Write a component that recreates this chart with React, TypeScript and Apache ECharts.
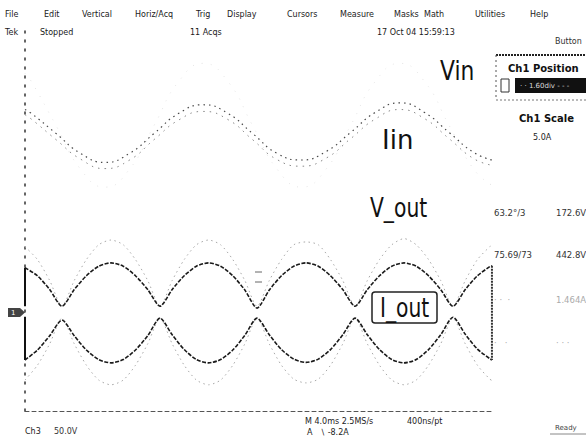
import React, { useEffect, useRef } from "react";
import * as echarts from "echarts";

// ---- data (time in ms, amplitude in screen divisions) ----
const T_GRID = [0, 1.06, 2.11, 3.16, 4.21, 5.25, 6.3, 7.35, 8.4, 9.44, 10.49, 11.54, 12.58, 13.61, 14.65, 15.69, 16.72, 17.76, 18.79, 19.83, 20.88, 21.92, 22.97, 24.02, 25.07, 26.11, 27.16, 28.21, 29.26, 30.3, 31.35, 32.4, 33.44, 34.49, 35.53, 36.58, 37.63, 38.67, 39.72, 39.91];

const IOUT_UPPER = [-0.99, -1.16, -1.45, -1.8, -1.45, -1.16, -0.96, -0.89, -0.96, -1.16, -1.45, -1.8, -1.45, -1.16, -0.96, -0.89, -0.96, -1.16, -1.46, -1.84, -1.46, -1.16, -0.96, -0.89, -0.96, -1.16, -1.45, -1.8, -1.45, -1.16, -0.96, -0.89, -0.96, -1.16, -1.45, -1.8, -1.45, -1.16, -0.97, -0.95];
const IOUT_LOWER = [-2.93, -2.72, -2.42, -2.09, -2.42, -2.72, -2.92, -2.99, -2.92, -2.72, -2.42, -2.05, -2.4, -2.71, -2.92, -2.99, -2.92, -2.72, -2.41, -2.05, -2.4, -2.71, -2.91, -2.98, -2.91, -2.71, -2.4, -2.05, -2.4, -2.71, -2.92, -2.99, -2.92, -2.71, -2.4, -2.03, -2.39, -2.7, -2.9, -2.93];
const VOUT_UPPER = [-0.55, -0.82, -1.26, -1.8, -1.26, -0.82, -0.51, -0.41, -0.51, -0.82, -1.26, -1.8, -1.26, -0.82, -0.51, -0.41, -0.51, -0.82, -1.26, -1.8, -1.26, -0.82, -0.51, -0.45, -0.51, -0.82, -1.26, -1.8, -1.26, -0.82, -0.51, -0.38, -0.51, -0.82, -1.26, -1.8, -1.26, -0.82, -0.55, -0.52];
const VOUT_LOWER = [-3.35, -3.04, -2.59, -2.05, -2.59, -3.04, -3.35, -3.45, -3.35, -3.04, -2.59, -2.05, -2.59, -3.04, -3.35, -3.45, -3.35, -3.04, -2.59, -2.05, -2.59, -3.04, -3.33, -3.41, -3.33, -3.04, -2.59, -2.05, -2.59, -3.04, -3.35, -3.45, -3.35, -3.04, -2.59, -2.05, -2.59, -3.04, -3.33, -3.36];

const IIN_T = [0, 0.54, 2.64, 4.74, 6.84, 8.94, 11.04, 13.14, 15.24, 17.34, 19.44, 21.54, 23.64, 25.74, 27.84, 29.94, 32.04, 34.14, 36.24, 38.34, 39.91];
const IIN_A = [2.33, 2.25, 1.83, 1.41, 1.22, 1.41, 1.83, 2.25, 2.43, 2.25, 1.83, 1.41, 1.27, 1.45, 1.85, 2.27, 2.47, 2.27, 1.85, 1.43, 1.27];
const IIN_B = [2.22, 2.13, 1.7, 1.29, 1.09, 1.27, 1.7, 2.11, 2.29, 2.12, 1.7, 1.28, 1.14, 1.31, 1.72, 2.13, 2.33, 2.14, 1.72, 1.3, 1.16];
const VIN = [3.09, 2.92, 2.0, 1.08, 0.7, 1.08, 2.0, 2.92, 3.3, 2.92, 2.0, 1.08, 0.7, 1.08, 2.0, 2.92, 3.3, 2.92, 2.0, 1.08, 0.74];

const EDGE_LEFT_UP: [number, number][] = [[0, -1.8], [0, -0.99]];
const EDGE_LEFT_LOW: [number, number][] = [[0, -2.02], [0, -2.93]];
const EDGE_RIGHT: [number, number][] = [[39.91, -0.95], [39.91, -2.93]];

const MENU_ITEMS = ["File", "Edit", "Vertical", "Horiz/Acq", "Trig", "Display", "Cursors", "Measure", "Masks", "Math", "Utilities", "Help"];
const MENU_X = [5, 44, 82, 135, 196, 227, 287, 340, 394, 424, 475, 530];

const STATUS_ITEMS = ["Tek", "Stopped", "11 Acqs", "17 Oct 04 15:59:13"];
const STATUS_X = [5, 40, 190, 377];

const READ_LEFT = ["63.2°/3", "75.69/73", "· ·  ·", "·   ·"];
const READ_RIGHT = ["172.6V", "442.8V", "1.464A", "· · ·"];
const READ_Y = [213, 255, 300, 343];

const zip = (t: number[], v: number[]) => t.map((x, i) => [x, v[i]]);

const FONT = '"DejaVu Sans", sans-serif';

function txt(text: string, x: number, y: number, size: number, extra: any = {}, styleExtra: any = {}) {
  return {
    type: "text",
    x,
    y,
    silent: true,
    ...extra,
    style: {
      text,
      fontSize: size,
      fontFamily: FONT,
      fill: "#111",
      align: "left",
      verticalAlign: "middle",
      ...styleExtra,
    },
  };
}

export default function App() {
  const ref = useRef<HTMLDivElement>(null);
  useEffect(() => {
    const chart = echarts.init(ref.current!, null, { renderer: "svg" });

    const line = (name: string, data: any[], color: string, width: number, dash: any, smooth: any, z = 2) => ({
      name,
      type: "line",
      data,
      symbol: "none",
      showSymbol: false,
      smooth,
      silent: true,
      z,
      lineStyle: { color, width, type: dash },
    });

    const graphic: any[] = [];
    MENU_ITEMS.forEach((m, i) => graphic.push(txt(m, MENU_X[i], 14, 8, {}, { fill: "#1a1a1a" })));
    STATUS_ITEMS.forEach((m, i) => graphic.push(txt(m, STATUS_X[i], 32, 8, {}, { fill: "#1a1a1a" })));
    graphic.push(txt("Button", 555, 41, 8, {}, { fill: "#333" }));

    // waveform labels
    graphic.push(txt("Vin", 440, 71, 26, { scaleX: 0.84 }, { fill: "#111" }));
    graphic.push(txt("Iin", 382, 140, 26, { scaleX: 1.0 }, { fill: "#111" }));
    graphic.push(txt("V_out", 370, 208, 26, { scaleX: 0.78 }, { fill: "#111" }));
    graphic.push({
      type: "rect",
      silent: true,
      shape: { x: 372, y: 292, width: 65, height: 31, r: 3 },
      style: { fill: "#fff", stroke: "#222", lineWidth: 1.5 },
      z: 50,
    });
    graphic.push({ ...txt("I_out", 380, 307.5, 26, { scaleX: 0.78 }, { fill: "#111" }), z: 51 });

    // channel marker
    graphic.push({
      type: "polygon",
      silent: true,
      shape: { points: [[8, 308], [20, 308], [25, 312.5], [20, 317], [8, 317]] },
      style: { fill: "#444" },
    });
    graphic.push(txt("1", 11, 312.5, 7, {}, { fill: "#fff" }));

    // trigger level marks
    graphic.push({ type: "line", silent: true, shape: { x1: 255, y1: 272, x2: 262, y2: 272 }, style: { stroke: "#666", lineWidth: 1 } });
    graphic.push({ type: "line", silent: true, shape: { x1: 255, y1: 282, x2: 262, y2: 282 }, style: { stroke: "#666", lineWidth: 1 } });

    // right panel
    graphic.push({ type: "line", silent: true, shape: { x1: 496, y1: 55, x2: 586, y2: 55 }, style: { stroke: "#222", lineWidth: 2, lineDash: [2, 1] } });
    graphic.push({ type: "line", silent: true, shape: { x1: 496, y1: 100, x2: 586, y2: 100 }, style: { stroke: "#777", lineWidth: 1, lineDash: [2, 2] } });
    graphic.push({ type: "line", silent: true, shape: { x1: 496, y1: 55, x2: 496, y2: 100 }, style: { stroke: "#555", lineWidth: 1, lineDash: [2, 3] } });
    graphic.push(txt("Ch1 Position", 508, 68, 10, {}, { fontWeight: "bold", fill: "#111" }));
    graphic.push({ type: "rect", silent: true, shape: { x: 515, y: 78, width: 71, height: 15 }, style: { fill: "#111" } });
    graphic.push(txt("· · 1.60div - - -", 520, 85.5, 7, {}, { fill: "#ddd" }));
    graphic.push({ type: "rect", silent: true, shape: { x: 501, y: 79, width: 8, height: 13 }, style: { fill: "#fff", stroke: "#333", lineWidth: 1 } });
    graphic.push(txt("Ch1 Scale", 519, 118, 10, {}, { fontWeight: "bold", fill: "#111" }));
    graphic.push(txt("5.0A", 533, 137, 8, {}, { fill: "#222" }));
    READ_LEFT.forEach((s, i) =>
      graphic.push(txt(s, 494, READ_Y[i], 8.5, {}, { fill: i < 2 ? "#333" : "#aaa" }))
    );
    READ_RIGHT.forEach((s, i) =>
      graphic.push(txt(s, 556, READ_Y[i], 8.5, {}, { fill: i < 2 ? "#333" : "#aaa" }))
    );

    // bottom status
    graphic.push(txt("Ch3", 25, 431, 8, {}, { fill: "#222" }));
    graphic.push(txt("50.0V", 54, 431, 8, {}, { fill: "#333" }));
    graphic.push(txt("M 4.0ms 2.5MS/s", 305, 421, 8, {}, { fill: "#222" }));
    graphic.push(txt("400ns/pt", 407, 421, 8, {}, { fill: "#222" }));
    graphic.push(txt("A", 307, 432, 8, {}, { fill: "#222" }));
    graphic.push(txt("∖ -8.2A", 320, 432, 8, {}, { fill: "#222" }));
    graphic.push(txt("Ready", 555, 428, 7, {}, { fill: "#444" }));
    graphic.push({ type: "line", silent: true, shape: { x1: 550, y1: 434, x2: 586, y2: 434 }, style: { stroke: "#888", lineWidth: 1 } });

    chart.setOption({
      animation: false,
      backgroundColor: "#fff",
      grid: { left: 25, right: 93, top: 30, bottom: 28 },
      xAxis: {
        type: "value",
        min: 0,
        max: 40,
        interval: 4,
        axisLine: { show: true, onZero: false, lineStyle: { color: "#555", width: 1, type: [4, 3] } },
        axisTick: { show: false },
        axisLabel: { show: false },
        splitLine: { show: false },
      },
      yAxis: {
        type: "value",
        min: -4,
        max: 4,
        interval: 1,
        axisLine: { show: true, onZero: false, lineStyle: { color: "#333", width: 1.5, type: [2, 7] } },
        axisTick: { show: false },
        axisLabel: { show: false },
        splitLine: { show: false },
      },
      series: [
        line("Vin", zip(IIN_T, VIN), "#e4e4e4", 1, [1, 8], true, 1),
        line("Iin A", zip(IIN_T, IIN_A), "#4a4a4a", 1.2, [1.5, 4], true),
        line("Iin B", zip(IIN_T, IIN_B), "#888", 1, [1.5, 5], true),
        line("V_out upper", zip(T_GRID, VOUT_UPPER), "#a8a8a8", 1, [1.5, 3.5], 0.25, 1),
        line("V_out lower", zip(T_GRID, VOUT_LOWER), "#a8a8a8", 1, [1.5, 3.5], 0.25, 1),
        line("I_out upper", zip(T_GRID, IOUT_UPPER), "#1a1a1a", 1.6, [4, 1.5], 0.25, 3),
        line("I_out lower", zip(T_GRID, IOUT_LOWER), "#1a1a1a", 1.6, [4, 1.5], 0.25, 3),
        line("edge lu", EDGE_LEFT_UP, "#111", 2, "solid", false, 3),
        line("edge ll", EDGE_LEFT_LOW, "#111", 2, "solid", false, 3),
        line("edge r", EDGE_RIGHT, "#333", 2, [2, 1], false, 3),
      ],
      graphic,
    });
    return () => chart.dispose();
  }, []);
  return (
    <div
      ref={ref}
      style={{ position: "fixed", left: 0, top: 0, width: 586, height: 439, background: "#fff" }}
    />
  );
}
